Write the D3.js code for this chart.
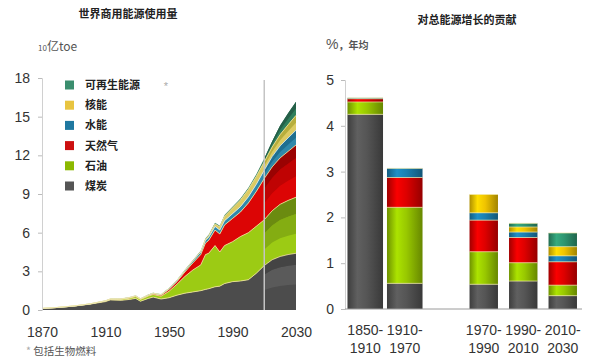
<!DOCTYPE html>
<html><head><meta charset="utf-8">
<script src="https://cdn.jsdelivr.net/npm/d3@7/dist/d3.min.js"></script>
<style>body{margin:0;background:#fff}svg{display:block}</style>
</head><body><svg id="c" width="600" height="358"></svg>
<script>
// ---- Left chart data: world commercial energy use, billion toe (layer thickness) ----
const years   = [1870,1880,1890,1900,1910,1913,1920,1925,1929,1932,1937,1940,1945,1950,1955,1960,1965,1970,1973,1975,1979,1982,1985,1990,1995,2000,2005,2010,2015,2020,2025,2030];
const coal    = [0.12,0.2,0.3,0.45,0.65,0.78,0.75,0.82,0.9,0.68,0.9,1.0,0.85,0.95,1.15,1.3,1.4,1.5,1.6,1.65,1.8,1.85,2.05,2.2,2.25,2.35,2.85,3.45,3.9,4.15,4.3,4.4];
const oil     = [0,0,0.01,0.02,0.05,0.06,0.08,0.1,0.14,0.13,0.18,0.2,0.22,0.5,0.85,1.3,1.7,2.0,2.7,2.75,3.2,2.65,2.95,3.1,3.45,3.65,3.65,3.55,3.8,4.05,4.2,4.35];
const gas     = [0,0,0,0,0.01,0.01,0.02,0.03,0.04,0.04,0.05,0.06,0.08,0.15,0.2,0.35,0.55,0.8,0.9,1.0,1.2,1.4,1.6,1.8,1.9,2.3,2.7,3.2,3.4,3.6,3.8,4.05];
const hydro   = [0,0,0,0,0.01,0.01,0.02,0.02,0.03,0.03,0.04,0.05,0.05,0.07,0.09,0.12,0.15,0.2,0.22,0.24,0.28,0.3,0.33,0.37,0.42,0.48,0.55,0.65,0.8,0.93,1.05,1.15];
const nuclear = [0,0,0,0,0,0,0,0,0,0,0,0,0,0,0,0,0.01,0.03,0.08,0.12,0.2,0.25,0.35,0.45,0.52,0.58,0.62,0.65,0.75,0.88,1.02,1.15];
const renew   = [0,0,0,0.01,0.02,0.02,0.02,0.02,0.02,0.02,0.03,0.03,0.03,0.03,0.04,0.05,0.05,0.06,0.06,0.07,0.08,0.08,0.09,0.1,0.11,0.12,0.17,0.25,0.45,0.7,0.9,1.05];
const splitYear = 2010;

// ---- Right chart data: contribution to total energy growth, % per year ----
const periods  = ["1850-|1910","1910-|1970","1970-|1990","1990-|2010","2010-|2030"];
const barCoal    = [4.25,0.56,0.54,0.61,0.29];
const barOil     = [0.27,1.66,0.71,0.40,0.23];
const barGas     = [0.07,0.65,0.69,0.55,0.51];
const barHydro   = [0.02,0.20,0.16,0.12,0.13];
const barNuclear = [0,0,0.40,0.11,0.20];
const barRenew   = [0,0,0,0.08,0.30];

const keys   = ["coal","oil","gas","hydro","nuclear","renew"];
const names  = {coal:"煤炭",oil:"石油",gas:"天然气",hydro:"水能",nuclear:"核能",renew:"可再生能源"};
const yTicksL = [0,3,6,9,12,15,18];
const xTicksL = [1870,1910,1950,1990,2030];
const yTicksR = [0,1,2,3,4,5];

// ---- styles ----
const areaColor = {coal:"#4c4c4c",oil:"#9ccb14",gas:"#dc0505",hydro:"#2f88aa",nuclear:"#dccb62",renew:"#2f7f5c"};
const barColor  = {coal:"#555555",oil:"#98c800",gas:"#dd0000",hydro:"#1b7fb0",nuclear:"#f0c400",renew:"#2f9670"};
const legColor  = {coal:"#555555",oil:"#8cb800",gas:"#cc1010",hydro:"#1f78a0",nuclear:"#e8c440",renew:"#3b8e6e"};
const numFont = "'Liberation Sans', Arial, sans-serif";
const cjkFont = "'Noto Sans CJK SC', sans-serif";

const svg = d3.select("#c");
const defs = svg.append("defs");

// ================= LEFT CHART =================
const x = d3.scaleLinear().domain([1870,2030]).range([42,296]);
const y = d3.scaleLinear().domain([0,18]).range([310,78]);

const rows = years.map((yr,i)=>({year:yr,coal:coal[i],oil:oil[i],gas:gas[i],hydro:hydro[i],nuclear:nuclear[i],renew:renew[i]}));
const stacked = d3.stack().keys(keys)(rows);

const gL = svg.append("g");
const area = d3.area().x(d=>x(d.data.year)).y0(d=>y(d[0])).y1(d=>y(d[1]));
gL.selectAll("path.layer").data(stacked).join("path")
  .attr("class","layer").attr("d",area).attr("fill",d=>areaColor[d.key]);

// projection shading bands
defs.append("clipPath").attr("id","proj").append("rect")
  .attr("x",x(splitYear)).attr("y",0).attr("width",x(2030)-x(splitYear)+1).attr("height",320);
const bands = {
  coal:[[0.45,0.8,"#5a5a5a"],[0.8,1,"#444"]],
  oil:[[0.35,0.7,"#84ad12"],[0.7,1,"#6b8b10"]],
  gas:[[0.4,0.75,"#bf0303"],[0.75,1,"#9a0202"]],
  hydro:[[0.5,1,"#1f6f90"]],
  nuclear:[[0.5,1,"#b7ae3c"]],
  renew:[[0.5,1,"#255f48"]]
};
const gP = gL.append("g").attr("clip-path","url(#proj)");
stacked.forEach(layer=>{
  bands[layer.key].forEach(([f0,f1,col])=>{
    const a = d3.area().x(d=>x(d.data.year))
      .y0(d=>y(d[0]+(d[1]-d[0])*f0)).y1(d=>y(d[0]+(d[1]-d[0])*f1));
    gP.append("path").attr("d",a(layer)).attr("fill",col);
  });
});
// light boundary lines
const topLine = d3.line().x(d=>x(d.data.year)).y(d=>y(d[1]));
gL.selectAll("path.edge").data(stacked.slice(0,5)).join("path")
  .attr("class","edge").attr("d",topLine).attr("fill","none")
  .attr("stroke",d=>d.key==="hydro"?"#d8e8ee":"#f1e49a").attr("stroke-width",0.9).attr("opacity",0.9);

// split line
gL.append("line").attr("x1",x(splitYear)).attr("x2",x(splitYear)).attr("y1",80).attr("y2",310)
  .attr("stroke","#c4c4c4").attr("stroke-width",1.5);

// axes
const yAxL = gL.append("g").attr("transform","translate(42,0)")
  .call(d3.axisLeft(y).tickValues(yTicksL).tickFormat(d3.format("d")).tickSize(4).tickPadding(8));
const xAxL = gL.append("g").attr("transform","translate(0,310)")
  .call(d3.axisBottom(x).tickValues(xTicksL).tickFormat(d3.format("d")).tickSize(0).tickPadding(17));
xAxL.select(".domain").remove();
[yAxL,xAxL].forEach(a=>{
  a.selectAll("text").attr("font-family",numFont).attr("font-size",14).attr("fill","#333");
  a.selectAll("line").attr("stroke","#bbb");
  a.select(".domain").attr("stroke","#d0d0d0");
});

// titles
svg.append("text").attr("x",128).attr("y",18).attr("text-anchor","middle")
  .attr("font-family",cjkFont).attr("font-weight","bold").attr("font-size",11).attr("fill","#222")
  .text("世界商用能源使用量");
const u1 = svg.append("text").attr("x",38).attr("y",51).attr("font-family",cjkFont).attr("fill","#555");
u1.append("tspan").attr("font-size",8).text("10");
u1.append("tspan").attr("font-size",12).text("亿toe");

// legend
const legKeys = keys.slice().reverse();
const gLeg = svg.append("g");
legKeys.forEach((k,i)=>{
  const cy = 85 + i*20.2;
  gLeg.append("rect").attr("x",65).attr("y",cy-4.5).attr("width",9).attr("height",9).attr("fill",legColor[k]);
  gLeg.append("text").attr("x",85).attr("y",cy+4).attr("font-family",cjkFont).attr("font-weight","bold")
    .attr("font-size",11).attr("fill","#222").text(names[k]);
});
gLeg.append("text").attr("x",166).attr("y",90).attr("text-anchor","middle").attr("font-family",numFont)
  .attr("font-size",11).attr("fill","#aaa").text("*");

// footnote
const fn = svg.append("text").attr("x",26).attr("y",355).attr("font-family",cjkFont).attr("font-size",10.5).attr("fill","#555");
fn.append("tspan").attr("fill","#aaa").text("* ");
fn.append("tspan").text("包括生物燃料");

// ================= RIGHT CHART =================
const bandDomain = [periods[0],periods[1],"gap",periods[2],periods[3],periods[4]];
const xb = d3.scaleBand().domain(bandDomain).range([345.5,582.5]).paddingInner(0).paddingOuter(0);
const yb = d3.scaleLinear().domain([0,5]).range([309,80]);

const barSeries = {coal:barCoal,oil:barOil,gas:barGas,hydro:barHydro,nuclear:barNuclear,renew:barRenew};
keys.forEach(k=>{
  const c = d3.color(barColor[k]);
  const gr = defs.append("linearGradient").attr("id","g_"+k).attr("x1","0").attr("x2","1").attr("y1","0").attr("y2","0");
  gr.append("stop").attr("offset","0%").attr("stop-color",c.darker(0.9));
  gr.append("stop").attr("offset","28%").attr("stop-color",c.brighter(0.35));
  gr.append("stop").attr("offset","55%").attr("stop-color",c);
  gr.append("stop").attr("offset","100%").attr("stop-color",c.darker(1.1));
});

const gR = svg.append("g");
periods.forEach((p,i)=>{
  const w = xb.bandwidth()*(i<2?0.9:0.72);
  const cx = xb(p)+xb.bandwidth()/2;
  let base = 0;
  keys.forEach(k=>{
    const v = barSeries[k][i];
    if(!v) return;
    gR.append("rect").attr("x",cx-w/2).attr("width",w)
      .attr("y",yb(base+v)).attr("height",yb(base)-yb(base+v)).attr("fill",`url(#g_${k})`);
    base += v;
  });
  // separators
  let b2 = 0;
  keys.forEach(k=>{
    const v = barSeries[k][i];
    if(!v) return;
    b2 += v;
    gR.append("line").attr("x1",cx-w/2).attr("x2",cx+w/2).attr("y1",yb(b2)).attr("y2",yb(b2))
      .attr("stroke","#f2eaa8").attr("stroke-width",0.8).attr("opacity",0.85);
  });
  // labels
  const [l1,l2] = p.split("|");
  const t = gR.append("text").attr("text-anchor","middle").attr("font-family",numFont).attr("font-size",14).attr("fill","#333");
  t.append("tspan").attr("x",cx).attr("y",335).text(l1);
  t.append("tspan").attr("x",cx).attr("y",353).text(l2);
});

const yAxR = gR.append("g").attr("transform","translate(345,0)")
  .call(d3.axisLeft(yb).tickValues(yTicksR).tickFormat(d3.format("d")).tickSize(4).tickPadding(7));
yAxR.selectAll("text").attr("font-family",numFont).attr("font-size",14).attr("fill","#333");
yAxR.selectAll("line").attr("stroke","#bbb");
yAxR.select(".domain").attr("stroke","#d0d0d0");
gR.append("line").attr("x1",345).attr("x2",582).attr("y1",309).attr("y2",309).attr("stroke","#9a9a9a");

svg.append("text").attr("x",467).attr("y",24).attr("text-anchor","middle")
  .attr("font-family",cjkFont).attr("font-weight","bold").attr("font-size",11).attr("fill","#222")
  .text("对总能源增长的贡献");
const u2 = svg.append("text").attr("x",326).attr("y",49).attr("fill","#555");
u2.append("tspan").attr("font-family",numFont).attr("font-size",14).text("%");
u2.append("tspan").attr("font-family",cjkFont).attr("font-size",10).attr("font-weight","bold").text("，年均");
</script>
</body></html>
